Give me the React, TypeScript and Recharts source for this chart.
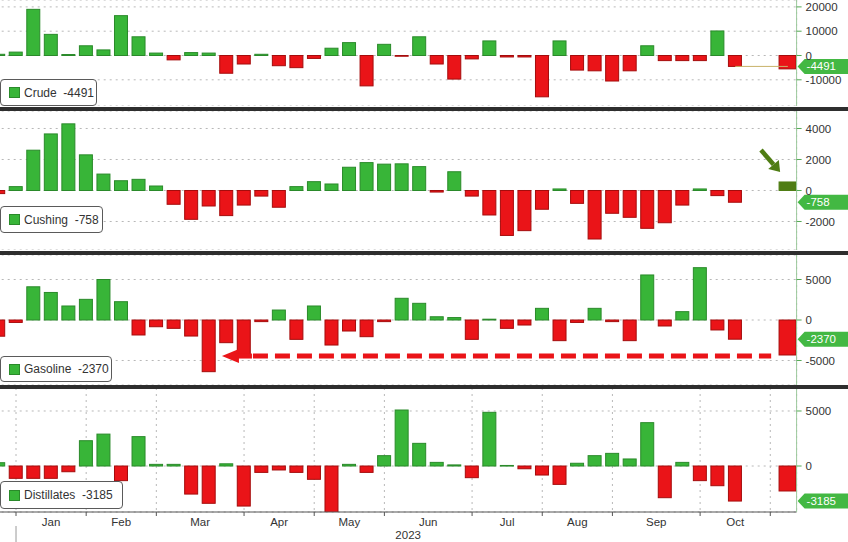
import { BarChart, Bar, XAxis, YAxis, CartesianGrid, ReferenceLine } from 'recharts'

// weekly slots (-1 is the cut-off bar at the left edge, 42/43 are empty weeks)
const SLOTS = [-1, 0, 1, 2, 3, 4, 5, 6, 7, 8, 9, 10, 11, 12, 13, 14, 15, 16, 17, 18, 19, 20, 21, 22, 23, 24, 25, 26, 27, 28, 29, 30, 31, 32, 33, 34, 35, 36, 37, 38, 39, 40, 41, 42, 43, 44]

const CRUDE = [500, 1400, 19000, 8700, 400, 4000, 2300, 16400, 7700, 1000, -1800, 1200, 1000, -7300, -3500, 500, -4200, -5000, -1200, 3000, 5300, -12500, 4600, -300, 7700, -3500, -9700, -1400, 6000, -600, -600, -17000, 6000, -6000, -6300, -10500, -6300, 4000, -2100, -2100, -2100, 10100, -4491, null, null, -5500]
const CUSHING = [-200, 250, 2600, 3650, 4300, 2300, 1060, 630, 720, 290, -890, -1860, -1000, -1620, -940, -360, -1080, 250, 570, 420, 1500, 1800, 1700, 1720, 1540, -100, 1210, -360, -1580, -2900, -2590, -1210, 100, -830, -3130, -1470, -1730, -2440, -2080, -940, 100, -330, -758, null, null, 550]
const GASOLINE = [-2000, -300, 4100, 3400, 1730, 2550, 5000, 2260, -1850, -830, -1030, -1980, -6380, -2800, -4500, -200, 1230, -2390, 1730, -3090, -1360, -2060, -200, 2680, 2060, 400, 300, -2390, 100, -1030, -620, 1440, -2550, -300, 1440, -200, -2550, 5560, -740, 1030, 6460, -1230, -2370, null, null, -4320]
const DISTILLATES = [300, -1120, -1120, -1120, -520, 2300, 2900, -1330, 2670, 150, 150, -2550, -3390, 200, -3640, -580, -360, -580, -1210, -4300, 150, -580, 940, 5090, 2060, 330, 100, -1060, 4880, 50, -250, -820, -1670, 250, 940, 1150, 640, 3940, -2880, 330, -1330, -1790, -3185, null, null, -2270]

const SERIES_NAMES = ['Crude', 'Cushing', 'Gasoline', 'Distillates']
const LAST_VALUES = [-4491, -758, -2370, -3185]

const CRUDE_TICKS = [-10000, 0, 10000, 20000]
const CUSHING_TICKS = [-2000, 0, 2000, 4000]
const GASOLINE_TICKS = [-5000, 0, 5000]
const DISTILLATES_TICKS = [0, 5000]

// first week of each month, where the vertical grid lines sit
const GRID_SLOTS = [0, 4, 8, 13, 17, 21, 26, 30, 34, 39, 43]
const MONTHS = ['Jan', 'Feb', 'Mar', 'Apr', 'May', 'Jun', 'Jul', 'Aug', 'Sep', 'Oct']
const YEAR = '2023'

const CHART_LEFT = -12
const CHART_W = 860
const MARGIN_L = 1.7
const MARGIN_R = 0.4
const YAXIS_W = 51
const PLOT_W = CHART_W - MARGIN_L - MARGIN_R - YAXIS_W
const UNIT = PLOT_W / 46

const GREEN = '#38b538'
const GREEN_EDGE = '#2a8a2a'
const RED = '#ea1418'
const RED_EDGE = '#a50c0c'
const OLIVE = '#4f7d14'
const FONT = '"Liberation Sans", Arial, sans-serif'

function makeRows(values: (number | null)[]) {
  return SLOTS.map((slot, i) => ({ slot, value: values[i] }))
}

function barShape(lastColor?: string) {
  return (props: any) => {
    const { x, y, width, height, payload } = props
    if (payload.value == null) return <g />
    const top = Math.min(y, y + height)
    const h = Math.max(Math.abs(height), 0.6)
    const isLast = payload.slot === 44
    const w = isLast ? width + 4 : width
    const left = isLast ? x - 2 : x
    let fill = payload.value >= 0 ? GREEN : RED
    let stroke = payload.value >= 0 ? GREEN_EDGE : RED_EDGE
    if (isLast && lastColor) {
      fill = lastColor
      stroke = lastColor
    }
    return <rect x={left} y={top} width={w} height={h} fill={fill} stroke={stroke} strokeWidth={1} />
  }
}

function tagShape(text: string) {
  return (props: any) => {
    const { x1, x2, y1 } = props
    const x = Math.max(x1, x2) + 1
    return (
      <g>
        <path
          d={`M${x},${y1} L${x + 7},${y1 - 7.5} L${x + 60},${y1 - 7.5} L${x + 60},${y1 + 7.5} L${x + 7},${y1 + 7.5} Z`}
          fill="#43b843"
        />
        <text x={x + 9} y={y1 + 4} fill="#ffffff" fontSize={11.5} fontFamily={FONT}>{text}</text>
      </g>
    )
  }
}

function arrowShape(props: any) {
  const { x1, y1, x2, y2 } = props
  const dx = x2 - x1
  const dy = y2 - y1
  const len = Math.sqrt(dx * dx + dy * dy)
  const ux = dx / len
  const uy = dy / len
  const head = 10
  const bx = x2 - ux * head
  const by = y2 - uy * head
  return (
    <g>
      <line x1={x1} y1={y1} x2={bx} y2={by} stroke={OLIVE} strokeWidth={4.5} />
      <polygon points={`${x2},${y2} ${bx - uy * 7},${by + ux * 7} ${bx + uy * 7},${by - ux * 7}`} fill={OLIVE} />
    </g>
  )
}

function dashedArrowShape(props: any) {
  const { x1, y1, x2 } = props
  return (
    <g>
      <polygon points={`${x1},${y1} ${x1 + 17},${y1 - 7} ${x1 + 17},${y1 + 7}`} fill={RED} />
      <line x1={x1 + 14} y1={y1} x2={x1 + 30} y2={y1} stroke={RED} strokeWidth={5} />
      <line x1={x1 + 31} y1={y1} x2={x2} y2={y1} stroke={RED} strokeWidth={5} strokeDasharray="15 7" />
    </g>
  )
}

function MonthTick(props: any) {
  const { x, y, payload } = props
  const i = GRID_SLOTS.indexOf(payload.value)
  return (
    <g>
      {i >= 0 && i < MONTHS.length && (
        <text
          x={x + ((GRID_SLOTS[i + 1] - GRID_SLOTS[i]) * UNIT) / 2}
          y={y}
          dy="0.71em"
          textAnchor="middle"
          fill="#333"
          fontSize={11.5}
          fontFamily={FONT}
        >
          {MONTHS[i]}
        </text>
      )}
      {i === 0 && <line x1={x} y1={y + 8} x2={x} y2={y + 26} stroke="#aaa" strokeWidth={1.2} />}
    </g>
  )
}

interface PanelProps {
  top: number
  height: number
  values: (number | null)[]
  domain: [number, number]
  ticks: number[]
  index: number
  withAxis?: boolean
  lastColor?: string
  children?: any
}

function Panel({ top, height, values, domain, ticks, index, withAxis, lastColor, children }: PanelProps) {
  return (
    <div style={{ position: 'absolute', left: CHART_LEFT, top, width: CHART_W, height }}>
      <BarChart
        width={CHART_W}
        height={height}
        data={makeRows(values)}
        margin={{ top: 0, right: MARGIN_R, bottom: 0, left: MARGIN_L }}
      >
        <CartesianGrid stroke="#b8b8b8" strokeDasharray="2 4" />
        {withAxis ? (
          <XAxis
            dataKey="slot"
            type="number"
            domain={[-1.5, 44.5]}
            ticks={GRID_SLOTS}
            interval={0}
            height={30}
            axisLine={{ stroke: '#555' }}
            tickLine={{ stroke: '#555' }}
            tickSize={4}
            tick={<MonthTick />}
            label={{ value: YEAR, position: 'insideBottom', offset: 3, dx: 15, fill: '#333', fontSize: 11.5 }}
          />
        ) : (
          <XAxis
            dataKey="slot"
            type="number"
            domain={[-1.5, 44.5]}
            ticks={GRID_SLOTS}
            interval={0}
            height={0}
            tick={false}
            axisLine={false}
            tickLine={false}
          />
        )}
        <YAxis
          orientation="right"
          width={YAXIS_W}
          domain={domain}
          ticks={ticks}
          allowDataOverflow
          interval={0}
          axisLine={{ stroke: '#9cc99c' }}
          tickLine={{ stroke: '#55aa55' }}
          tickSize={5}
          tickMargin={4}
          tick={{ fill: '#333', fontSize: 11.5 }}
        />
        <Bar dataKey="value" barSize={13} isAnimationActive={false} shape={barShape(lastColor)} />
        {children}
        <ReferenceLine y={LAST_VALUES[index]} shape={tagShape(String(LAST_VALUES[index]))} />
      </BarChart>
    </div>
  )
}

function LegendBox({ left, top, width, height, index }: any) {
  return (
    <div
      style={{
        position: 'absolute',
        left,
        top,
        width,
        height,
        boxSizing: 'border-box',
        background: '#fff',
        border: '1.5px solid #5a5a5a',
        borderRadius: 4,
        display: 'flex',
        alignItems: 'center',
        paddingLeft: 8,
        fontSize: 12,
        color: '#333',
        whiteSpace: 'pre',
      }}
    >
      <span
        style={{
          display: 'inline-block',
          width: 11,
          height: 11,
          background: GREEN,
          border: `1px solid ${GREEN_EDGE}`,
          boxSizing: 'border-box',
          marginRight: 4,
        }}
      />
      {`${SERIES_NAMES[index]}  ${LAST_VALUES[index]}`}
    </div>
  )
}

function Separator({ top, height }: { top: number; height: number }) {
  return <div style={{ position: 'absolute', left: 0, top, width: 848, height, background: '#2e2e2e' }} />
}

export default function App() {
  return (
    <div
      style={{
        position: 'absolute',
        left: 0,
        top: 0,
        width: 848,
        height: 542,
        overflow: 'hidden',
        background: '#fff',
        fontFamily: FONT,
      }}
    >
      <Panel top={0} height={106} values={CRUDE} domain={[-20780, 22840]} ticks={CRUDE_TICKS} index={0}>
        <ReferenceLine
          segment={[{ x: 41, y: LAST_VALUES[0] }, { x: 44, y: LAST_VALUES[0] }]}
          stroke="#c8b36a"
          strokeWidth={1}
        />
      </Panel>
      <Panel top={111} height={139} values={CUSHING} domain={[-3839, 5129]} ticks={CUSHING_TICKS} index={1} lastColor={OLIVE}>
        <ReferenceLine segment={[{ x: 42.47, y: 2610 }, { x: 43.56, y: 1190 }]} shape={arrowShape} />
      </Panel>
      <Panel top={255} height={130} values={GASOLINE} domain={[-8025, 8025]} ticks={GASOLINE_TICKS} index={2}>
        <ReferenceLine segment={[{ x: 11.74, y: -4450 }, { x: 43.05, y: -4450 }]} shape={dashedArrowShape} />
      </Panel>
      <Panel top={388} height={154} values={DISTILLATES} domain={[-4180, 7090]} ticks={DISTILLATES_TICKS} index={3} withAxis />

      <Separator top={107} height={4} />
      <Separator top={251} height={3.5} />
      <Separator top={385} height={3.5} />

      <LegendBox left={0} top={79} width={97} height={27} index={0} />
      <LegendBox left={0} top={206} width={103} height={27} index={1} />
      <LegendBox left={0} top={356} width={112} height={26} index={2} />
      <LegendBox left={0} top={481} width={123} height={28} index={3} />
    </div>
  )
}
